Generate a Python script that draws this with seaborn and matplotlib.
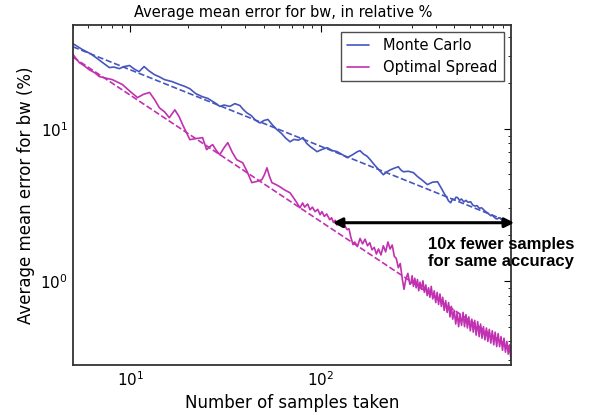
import matplotlib
matplotlib.use("Agg")
import matplotlib.pyplot as plt
import seaborn as sns

# Values (log-log)
mc_x = [5.0, 5.6, 6.2, 6.6, 7.2, 7.75, 8.2, 8.75, 9.3, 9.9, 10.5, 11.1, 11.8, 12.5, 13.4,
        14.2, 15.1, 16.5, 18.1, 19.2, 20.5, 22.0, 23.9, 25.5, 27.0, 28.2, 29.4, 31.0, 33.2,
        35.3, 37.5, 39.0, 40.8, 43.0, 45.5, 47.8, 50.0, 52.6, 55.5, 58.7, 62.0, 65.0, 68.7,
        72.0, 76.0, 80.4, 84.0, 88.0, 92.0, 95.2, 101, 107.6, 114, 121.4, 128, 137, 145, 155,
        160, 167, 174, 181, 190, 200, 212, 221, 231, 242, 254, 262, 270, 287, 305, 320, 338,
        361, 384, 408, 430, 442, 455, 466, 478, 489, 500, 510, 520, 532, 545, 560, 575, 590,
        608, 624, 640, 657, 675, 694, 713, 729, 745, 760, 775, 790, 804, 822, 840, 855, 870,
        888, 907, 928, 950, 975, 1000]
mc_y = [36.2, 33.1, 31.0, 29.3, 27.0, 25.2, 25.4, 24.8, 25.6, 26.0, 24.6, 23.7, 25.6, 24.0, 22.6,
        21.9, 21.0, 20.4, 19.5, 19.0, 18.3, 17.0, 16.2, 15.8, 15.1, 14.6, 14.0, 14.3, 14.0,
        14.6, 14.2, 13.4, 12.7, 12.2, 11.3, 10.9, 11.3, 11.5, 10.6, 9.85, 9.3, 8.7, 8.2,
        8.5, 8.4, 8.73, 8.0, 7.6, 7.3, 7.06, 7.3, 7.5, 7.2, 7.06, 6.8, 6.45, 6.7, 7.06,
        7.17, 6.8, 6.6, 6.25, 5.8, 5.4, 4.98, 5.2, 5.37, 5.5, 5.62, 5.35, 5.21, 5.25, 5.14, 4.85, 4.6,
        4.29, 4.45, 4.48, 4.0, 3.75, 3.55, 3.35, 3.26, 3.45, 3.4, 3.55, 3.52, 3.38, 3.45, 3.3, 3.38, 3.28,
        3.31, 3.15, 3.1, 3.12, 3.0, 3.02, 2.93, 2.85, 2.8, 2.74, 2.68, 2.7, 2.64, 2.57, 2.55, 2.6, 2.58,
        2.5, 2.52, 2.46, 2.47, 2.42, 2.44]

opt_x = [5.0, 5.39, 5.7, 6.08, 6.5, 6.87, 7.4, 8.04, 8.5, 9.08, 10.0, 10.9, 11.7, 12.6, 13.4,
         14.2, 15.1, 16.0, 17.1, 18.0, 18.8, 19.7, 20.5, 22.0, 23.9, 25.1, 26.0, 27.0, 28.2,
         29.4, 31.0, 32.4, 34.2, 36.1, 38.8, 41.0, 43.3, 46.0, 48.9, 50.5, 52.0, 53.5, 55.2,
         57.8, 60.8, 64.5, 68.7, 73.0, 77.5, 80, 82, 85, 87.5, 90, 93, 96, 98.8, 101, 104, 107,
         111, 113.5, 116, 118.5, 121, 125, 129, 133, 137, 140, 143, 147,
         150, 155, 160, 165, 170, 175, 180, 185, 190, 195, 200, 206, 212, 218, 224, 230, 236,
         242, 248, 254, 260, 266, 272, 278, 285, 292, 296,
         300, 305, 310, 315, 320, 325, 330, 336, 342, 348, 354, 360, 366, 372, 378, 385, 392,
         399, 406, 413, 420, 427, 434, 442, 450, 458, 466, 474, 482, 490, 499, 508, 517, 526,
         535, 545, 555, 565, 575, 585, 595, 606, 617, 628, 639, 650, 662, 674, 686, 698, 710,
         723, 736, 749, 762, 776, 790, 804, 818, 833, 848, 863, 878, 894, 910, 926, 942, 958,
         975, 990, 1000]
opt_y = [30.7, 27.2, 26.0, 24.4, 23.3, 22.0, 21.5, 21.0, 20.3, 19.5, 17.5, 16.0, 16.8, 17.3, 15.5,
         13.7, 12.9, 11.8, 13.3, 12.0, 10.6, 9.4, 8.47, 8.6, 8.73, 7.28, 7.6, 7.85, 7.2,
         6.75, 7.5, 8.09, 7.0, 6.25, 5.97, 5.2, 4.42, 4.5, 4.62, 5.0, 5.53, 4.9, 4.42,
         4.3, 4.15, 3.95, 3.79, 3.4, 3.02, 3.25, 3.05, 3.2, 2.93, 3.05, 2.85, 2.95, 2.72, 2.85, 2.65, 2.75,
         2.52, 2.6, 2.42, 2.5, 2.33, 2.4, 2.26, 2.3, 2.17, 2.2, 1.95, 1.73,
         1.80, 1.68, 1.90, 1.75, 1.88, 1.70, 1.78, 1.60, 1.66, 1.50, 1.62, 1.48, 1.70, 1.55, 1.80, 1.62, 1.72,
         1.45, 1.40, 1.22, 1.30, 1.05, 0.88, 1.02, 1.12, 0.95, 0.96,
         1.08, 0.92, 1.04, 0.90, 1.02, 0.86, 0.98, 0.88, 1.00, 0.84, 0.94, 0.80, 0.90, 0.78, 0.92, 0.76, 0.86,
         0.72, 0.84, 0.70, 0.82, 0.68, 0.78, 0.64, 0.74, 0.62, 0.72, 0.58, 0.68, 0.56, 0.64, 0.52, 0.62, 0.50,
         0.60, 0.51, 0.62, 0.50, 0.60, 0.49, 0.58, 0.47, 0.56, 0.46, 0.55, 0.44, 0.54, 0.43, 0.52, 0.42, 0.50,
         0.41, 0.49, 0.40, 0.48, 0.39, 0.47, 0.38, 0.46, 0.37, 0.45, 0.37, 0.43, 0.35, 0.42, 0.34, 0.40, 0.33,
         0.38, 0.30, 0.34]

# power-law fits (end points)
fit_x = [5, 1000]
mc_fit = [34.5, 2.4]
opt_fit = [29.5, 0.36]

mc_color = '#4656bd'
opt_color = '#c030b0'

sns.set_style('white')
plt.rcParams['font.family'] = ['DejaVu Sans']
plt.rcParams['text.color'] = 'black'
plt.rcParams['axes.labelcolor'] = 'black'
plt.rcParams['xtick.color'] = 'black'
plt.rcParams['ytick.color'] = 'black'

fig, ax = plt.subplots(figsize=(5.91, 4.15), dpi=100)
fig.subplots_adjust(left=0.1235, right=0.8646, top=0.9398, bottom=0.1205)

sns.lineplot(x=mc_x, y=mc_y, ax=ax, color=mc_color, lw=1.2, label='Monte Carlo')
sns.lineplot(x=opt_x, y=opt_y, ax=ax, color=opt_color, lw=1.2, label='Optimal Spread')
sns.lineplot(x=fit_x, y=mc_fit, ax=ax, color=mc_color, lw=1.2, linestyle='--', legend=False)
sns.lineplot(x=fit_x, y=opt_fit, ax=ax, color=opt_color, lw=1.2, linestyle='--', legend=False)

ax.set_xscale('log')
ax.set_yscale('log')
ax.set_xlim(5, 990)
ax.set_ylim(0.28, 48)

ax.set_title('Average mean error for bw, in relative %', fontsize=10.5, x=0.48)
ax.set_xlabel('Number of samples taken', fontsize=12)
ax.set_ylabel('Average mean error for bw (%)', fontsize=12)
ax.tick_params(which='both', direction='in', top=True, right=True, labelsize=11)
ax.tick_params(which='major', length=5, width=0.8)
ax.tick_params(which='minor', length=2.5, width=0.6)
for sp in ax.spines.values():
    sp.set_color('#333333')
    sp.set_linewidth(1.3)

leg = ax.legend(loc='upper right', fontsize=10.5, fancybox=False, edgecolor='#222222',
                handlelength=1.5, handletextpad=1.0, borderaxespad=0.5)
leg.get_frame().set_linewidth(1.0)

# 10x arrow annotation
ax.annotate('', xy=(1030, 2.41), xytext=(115, 2.41), annotation_clip=False,
            arrowprops=dict(arrowstyle='<|-|>', color='black', lw=2.2,
                            shrinkA=0, shrinkB=0, mutation_scale=14))
fig.text(0.724, 0.428, '10x fewer samples\nfor same accuracy', fontsize=12, color='black',
         fontweight='bold', family='Liberation Sans', va='top', ha='left', linespacing=1.15)

fig.savefig('out.png', dpi=100)
